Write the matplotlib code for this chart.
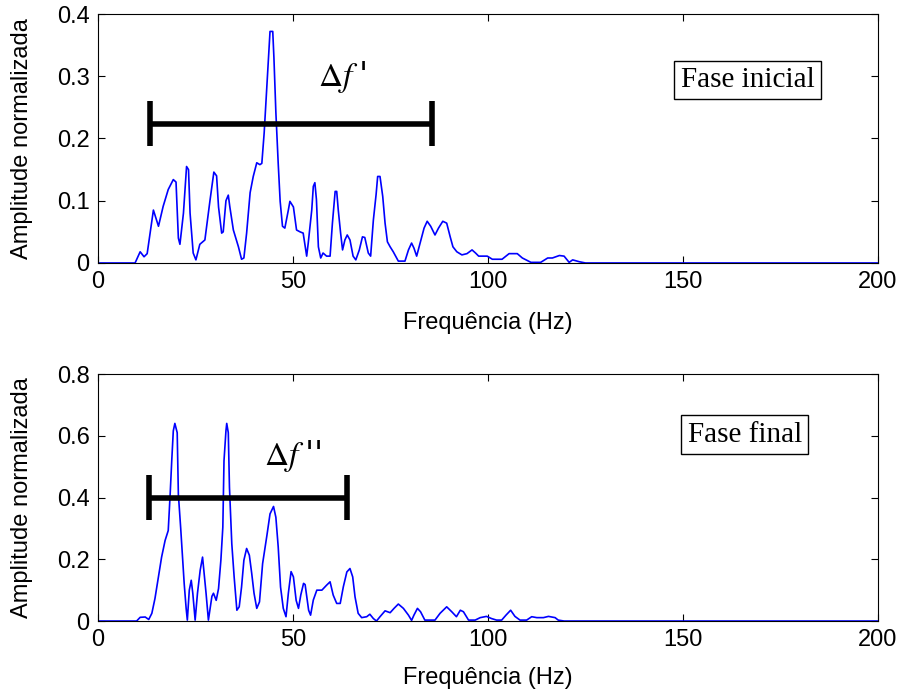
import matplotlib
matplotlib.use("Agg")
import matplotlib.pyplot as plt

plt.rcParams['font.family'] = ['Liberation Sans', 'DejaVu Sans']
plt.rcParams['mathtext.fontset'] = 'stix'

# espectro da fase inicial
freq_top = [0, 9.5, 10.8, 11.8, 12.6, 14.2, 15.5, 16.7, 18.0, 19.3,
            20.0, 20.6, 21.0, 21.9, 22.7, 23.2, 23.6, 24.4, 25.1, 26.1,
            27.4, 28.7, 29.7, 30.4, 30.9, 31.7, 32.1, 32.8, 33.4, 33.8,
            34.7, 36.0, 36.8, 37.4, 38.1, 39.0, 39.8, 40.7, 41.5, 42.0,
            42.6, 43.1, 43.7, 44.1, 44.8, 45.1, 45.6, 46.2, 46.7, 47.3,
            47.9, 48.8, 49.2, 50.1, 50.9, 51.8, 52.6, 53.5, 53.9, 54.8,
            55.2, 55.6, 56.0, 56.5, 57.1, 57.7, 58.6, 59.5, 60.1, 60.8,
            61.2, 61.6, 62.2, 62.7, 63.3, 63.9, 64.6, 65.4, 66.1, 67.0,
            67.8, 68.4, 69.3, 69.9, 70.6, 71.3, 71.7, 72.3, 73.0, 73.6,
            74.2, 74.9, 75.7, 77.0, 78.7, 79.6, 80.4, 81.0, 81.7, 82.6,
            83.6, 84.4, 85.3, 86.4, 87.3, 88.4, 89.4, 90.3, 91.0, 92.0,
            93.3, 94.6, 95.9, 96.8, 97.6, 99.8, 101.1, 103.6, 105.4, 107.5,
            108.8, 111.0, 113.5, 115.3, 116.5, 118.3, 119.5, 120.8, 121.7, 123.4,
            125.0, 200.0]
amp_top = [0, 0, 0.018, 0.010, 0.015, 0.085, 0.059, 0.091, 0.118, 0.134,
           0.130, 0.040, 0.030, 0.080, 0.155, 0.150, 0.080, 0.016, 0.005, 0.030,
           0.037, 0.100, 0.146, 0.140, 0.090, 0.048, 0.050, 0.100, 0.109, 0.090,
           0.053, 0.026, 0.006, 0.008, 0.048, 0.113, 0.139, 0.161, 0.158, 0.160,
           0.209, 0.263, 0.325, 0.372, 0.372, 0.330, 0.242, 0.160, 0.099, 0.059,
           0.056, 0.085, 0.099, 0.090, 0.053, 0.050, 0.048, 0.011, 0.032, 0.085,
           0.123, 0.129, 0.102, 0.026, 0.008, 0.016, 0.011, 0.011, 0.064, 0.115,
           0.115, 0.085, 0.048, 0.021, 0.037, 0.045, 0.037, 0.011, 0.005, 0.021,
           0.042, 0.041, 0.016, 0.011, 0.069, 0.110, 0.139, 0.139, 0.107, 0.064,
           0.034, 0.026, 0.018, 0.003, 0.003, 0.021, 0.032, 0.024, 0.011, 0.032,
           0.056, 0.067, 0.059, 0.045, 0.056, 0.067, 0.064, 0.042, 0.026, 0.018,
           0.013, 0.015, 0.021, 0.016, 0.011, 0.011, 0.006, 0.006, 0.015, 0.015,
           0.008, 0.001, 0.001, 0.008, 0.008, 0.012, 0.011, 0.001, 0.005, 0.002,
           0.0, 0.0]

# espectro da fase final
freq_bot = [0, 9.9, 10.8, 12.1, 13.0, 13.8, 14.6, 15.5, 16.3, 17.2,
            18.0, 18.5, 18.9, 19.3, 19.7, 20.3, 20.6, 21.2, 21.7, 22.1,
            22.6, 22.9, 23.4, 23.9, 24.3, 24.9, 25.5, 26.2, 26.8, 27.2,
            27.7, 28.3, 29.2, 29.6, 30.3, 30.9, 31.5, 32.0, 32.3, 32.8,
            33.0, 33.4, 33.7, 34.3, 34.9, 35.6, 36.2, 36.8, 37.4, 38.1,
            38.8, 39.4, 40.0, 40.7, 41.4, 42.2, 43.3, 44.1, 45.0, 45.6,
            46.2, 46.8, 47.5, 48.2, 48.8, 49.5, 50.1, 50.8, 51.4, 52.0,
            52.7, 53.1, 54.0, 54.5, 55.2, 56.1, 57.4, 58.6, 59.5, 60.3,
            61.2, 62.1, 62.9, 63.8, 64.6, 65.3, 65.9, 66.7, 67.6, 68.9,
            69.7, 70.6, 71.4, 72.3, 73.6, 74.9, 75.9, 77.0, 78.3, 79.6,
            80.4, 81.0, 81.9, 82.7, 83.8, 86.4, 87.7, 89.4, 90.7, 91.9,
            92.9, 93.7, 95.0, 96.7, 98.0, 99.6, 100.9, 102.2, 103.5, 104.6,
            105.8, 106.9, 108.2, 109.9, 111.2, 112.5, 114.2, 115.5, 117.2, 118.0,
            119.5, 200.0]
amp_bot = [0, 0, 0.012, 0.013, 0.005, 0.025, 0.073, 0.143, 0.207, 0.261,
           0.293, 0.412, 0.519, 0.616, 0.640, 0.610, 0.410, 0.300, 0.200, 0.120,
           0.040, 0.003, 0.100, 0.132, 0.090, 0.003, 0.090, 0.165, 0.207, 0.155,
           0.090, 0.003, 0.080, 0.090, 0.067, 0.105, 0.197, 0.304, 0.519, 0.616,
           0.640, 0.610, 0.433, 0.250, 0.143, 0.035, 0.046, 0.110, 0.197, 0.235,
           0.213, 0.155, 0.090, 0.041, 0.062, 0.186, 0.277, 0.347, 0.371, 0.336,
           0.240, 0.110, 0.041, 0.014, 0.090, 0.160, 0.143, 0.067, 0.041, 0.085,
           0.122, 0.118, 0.035, 0.019, 0.068, 0.100, 0.100, 0.116, 0.127, 0.084,
           0.057, 0.057, 0.111, 0.159, 0.170, 0.143, 0.078, 0.025, 0.011, 0.014,
           0.022, 0.008, 0.000, 0.014, 0.033, 0.027, 0.041, 0.055, 0.041, 0.019,
           0.002, 0.019, 0.041, 0.030, 0.003, 0.003, 0.025, 0.046, 0.030, 0.014,
           0.035, 0.030, 0.003, 0.003, 0.011, 0.015, 0.008, 0.003, 0.003, 0.019,
           0.035, 0.015, 0.003, 0.003, 0.014, 0.011, 0.011, 0.015, 0.011, 0.003,
           0.0, 0.0]

# barras de largura de banda: (f inicio, f fim, altura, meia altura das pontas)
band_top = (13.3, 85.6, 0.224, 0.036)
band_bot = (13.0, 63.8, 0.400, 0.073)

panels = [
    dict(f=freq_top, a=amp_top, ylim=0.4, yticks=[0, 0.1, 0.2, 0.3, 0.4],
         band=band_top, primes="'", delta_pos=(62.5, 0.298),
         phase="Fase inicial", phase_pos=(166.5, 0.294),
         rect=[0.1088, 0.6227, 0.8657, 0.3572], xlab_y=-0.24),
    dict(f=freq_bot, a=amp_bot, ylim=0.8, yticks=[0, 0.2, 0.4, 0.6, 0.8],
         band=band_bot, primes="''", delta_pos=(50.0, 0.535),
         phase="Fase final", phase_pos=(165.8, 0.603),
         rect=[0.1088, 0.1090, 0.8657, 0.3544], xlab_y=-0.23),
]

fig = plt.figure(figsize=(9.01, 6.97), dpi=100)

for p in panels:
    ax = fig.add_axes(p['rect'])
    ax.plot(p['f'], p['a'], color='#0000ff', lw=1.2)

    f0, f1, h, e = p['band']
    ax.plot([f0, f1], [h, h], color='black', lw=4, solid_capstyle='butt')
    ax.plot([f0, f0], [h - e, h + e], color='black', lw=4, solid_capstyle='butt')
    ax.plot([f1, f1], [h - e, h + e], color='black', lw=4, solid_capstyle='butt')

    ax.text(p['delta_pos'][0], p['delta_pos'][1],
            r"$\Delta f\;$" + p['primes'], fontsize=24,
            family=['DejaVu Serif'], ha='center', va='center')
    ax.text(p['phase_pos'][0], p['phase_pos'][1], p['phase'], fontsize=21,
            family='Liberation Serif', ha='center', va='center',
            bbox=dict(boxstyle='square,pad=0.22', fc='white', ec='black', lw=1))

    ax.set_xlim(0, 200)
    ax.set_ylim(0, p['ylim'])
    ax.set_xticks([0, 50, 100, 150, 200])
    ax.set_yticks(p['yticks'])
    ax.set_yticklabels([f"{t:g}" for t in p['yticks']])
    ax.tick_params(direction='in', top=True, right=True, length=5, width=0.8,
                   labelsize=17, pad=6, colors='black')
    for s in ax.spines.values():
        s.set_linewidth(0.8)

    ax.set_xlabel('Frequência (Hz)', fontsize=17)
    ax.xaxis.set_label_coords(0.5, p['xlab_y'])
    ax.xaxis.label.set_va('center')
    ax.set_ylabel('Amplitude normalizada', fontsize=17)
    ax.yaxis.set_label_coords(-0.097, 0.5)
    ax.yaxis.label.set_va('center')

fig.savefig('out.png', dpi=100)
